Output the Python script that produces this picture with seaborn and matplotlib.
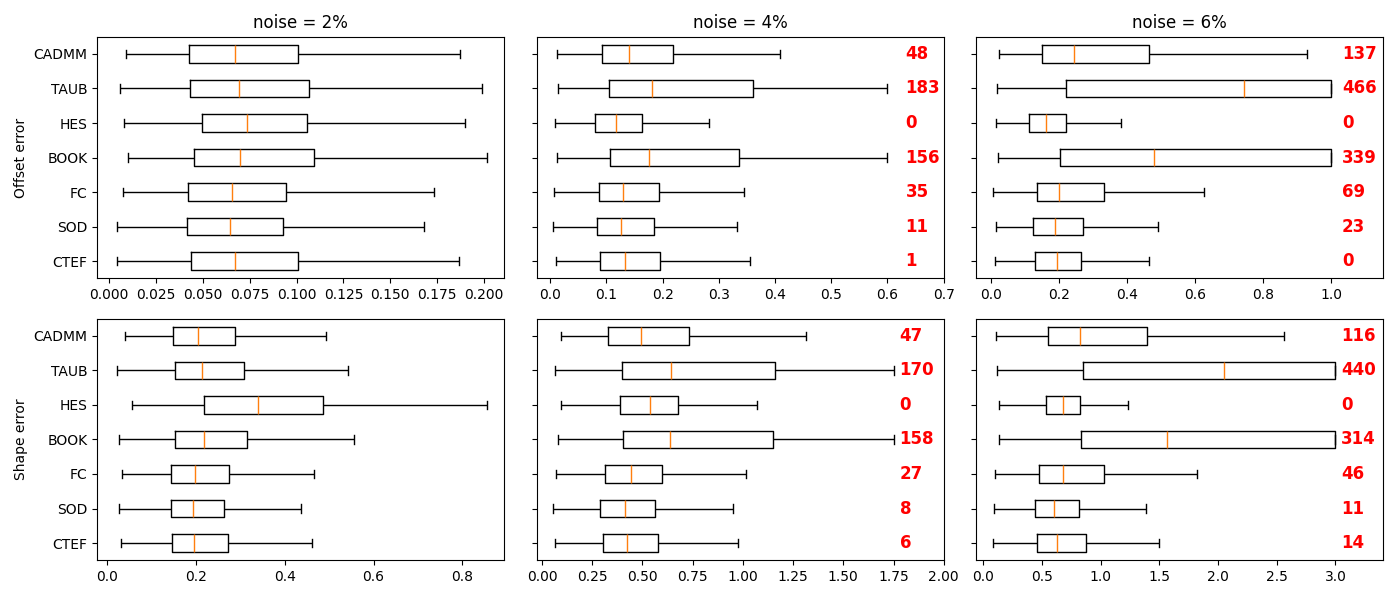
import numpy as np
import pandas as pd
import matplotlib
matplotlib.use("Agg")
import matplotlib.pyplot as plt
import seaborn as sns

methods = ["CADMM", "TAUB", "HES", "BOOK", "FC", "SOD", "CTEF"]
noise_titles = ["noise = 2%", "noise = 4%", "noise = 6%"]
row_labels = ["Offset error", "Shape error"]

# five-number summaries per method: [low whisker, Q1, median, Q3, high whisker]
offset_2 = [
    [0.0090, 0.0428, 0.0673, 0.1008, 0.1870],
    [0.0060, 0.0433, 0.0694, 0.1067, 0.1988],
    [0.0082, 0.0495, 0.0738, 0.1056, 0.1897],
    [0.0103, 0.0451, 0.0699, 0.1093, 0.2014],
    [0.0075, 0.0422, 0.0658, 0.0946, 0.1734],
    [0.0044, 0.0417, 0.0646, 0.0928, 0.1679],
    [0.0044, 0.0435, 0.0674, 0.1008, 0.1865],
]
offset_4 = [
    [0.0119, 0.0921, 0.1408, 0.2186, 0.4093],
    [0.0137, 0.1046, 0.1818, 0.3612, 0.6000],
    [0.0083, 0.0790, 0.1170, 0.1634, 0.2828],
    [0.0119, 0.1063, 0.1758, 0.3362, 0.6000],
    [0.0065, 0.0867, 0.1301, 0.1937, 0.3440],
    [0.0048, 0.0832, 0.1259, 0.1848, 0.3315],
    [0.0101, 0.0885, 0.1337, 0.1955, 0.3559],
]
offset_6 = [
    [0.0244, 0.1496, 0.2434, 0.4633, 0.9277],
    [0.0176, 0.2200, 0.7420, 1.0000, 1.0000],
    [0.0147, 0.1114, 0.1613, 0.2200, 0.3812],
    [0.0205, 0.2043, 0.4780, 1.0000, 1.0000],
    [0.0049, 0.1349, 0.1994, 0.3314, 0.6256],
    [0.0147, 0.1232, 0.1877, 0.2708, 0.4907],
    [0.0117, 0.1300, 0.1935, 0.2649, 0.4633],
]
shape_2 = [
    [0.0398, 0.1471, 0.2041, 0.2874, 0.4923],
    [0.0210, 0.1523, 0.2131, 0.3077, 0.5426],
    [0.0555, 0.2176, 0.3392, 0.4856, 0.8548],
    [0.0263, 0.1531, 0.2184, 0.3145, 0.5553],
    [0.0323, 0.1433, 0.1974, 0.2739, 0.4653],
    [0.0263, 0.1433, 0.1929, 0.2627, 0.4368],
    [0.0300, 0.1448, 0.1959, 0.2717, 0.4608],
]
shape_4 = [
    [0.0928, 0.3265, 0.4905, 0.7292, 1.3125],
    [0.0663, 0.3961, 0.6413, 1.1617, 1.7500],
    [0.0928, 0.3878, 0.5353, 0.6745, 1.0722],
    [0.0779, 0.4010, 0.6347, 1.1517, 1.7500],
    [0.0713, 0.3132, 0.4408, 0.5949, 1.0142],
    [0.0563, 0.2867, 0.4126, 0.5601, 0.9529],
    [0.0630, 0.3049, 0.4209, 0.5750, 0.9778],
]
shape_6 = [
    [0.1076, 0.5524, 0.8244, 1.3966, 2.5580],
    [0.1190, 0.8499, 2.0480, 3.0000, 3.0000],
    [0.1388, 0.5354, 0.6827, 0.8215, 1.2323],
    [0.1388, 0.8357, 1.5666, 3.0000, 3.0000],
    [0.1020, 0.4759, 0.6827, 1.0283, 1.8215],
    [0.0935, 0.4419, 0.6062, 0.8159, 1.3881],
    [0.0878, 0.4589, 0.6289, 0.8754, 1.4986],
]

# counts of clipped values (red annotations)
count_offset_4 = [48, 183, 0, 156, 35, 11, 1]
count_offset_6 = [137, 466, 0, 339, 69, 23, 0]
count_shape_4 = [47, 170, 0, 158, 27, 8, 6]
count_shape_6 = [116, 440, 0, 314, 46, 11, 14]

panels = [[offset_2, offset_4, offset_6], [shape_2, shape_4, shape_6]]
counts = [[None, count_offset_4, count_offset_6], [None, count_shape_4, count_shape_6]]
xlims = [[(-0.0062, 0.2108), (-0.024, 0.70), (-0.044, 1.152)],
         [(-0.023, 0.895), (-0.027, 2.0), (-0.06, 3.405)]]
text_x = [[None, 0.632, 1.031], [None, 1.78, 3.045]]

fig, axes = plt.subplots(2, 3, figsize=(14, 6), dpi=100)
fig.subplots_adjust(left=0.0695, right=0.9879, top=0.9388, bottom=0.0662,
                    wspace=0.0792, hspace=0.167)

for r in range(2):
    for c in range(3):
        ax = axes[r, c]
        summ = panels[r][c]
        rows = []
        for m, vals in zip(methods, summ):
            for v in vals:
                rows.append({"method": m, "value": v})
        df = pd.DataFrame(rows)
        sns.boxplot(data=df, x="value", y="method", order=methods, orient="y",
                    width=0.5, whis=(0, 100), showfliers=False, fill=False,
                    color="black", linewidth=1,
                    medianprops=dict(color="#ff7f0e", linewidth=1),
                    capwidths=0.25, ax=ax)
        ax.set_xlim(*xlims[r][c])
        ax.set_xlabel("")
        if c == 0:
            ax.set_ylabel(row_labels[r])
        else:
            ax.set_ylabel("")
            ax.tick_params(labelleft=False)
        if r == 0:
            ax.set_title(noise_titles[c], fontsize=12)
        cnt = counts[r][c]
        if cnt is not None:
            for i, n in enumerate(cnt):
                ax.text(text_x[r][c], i, str(n), color="red", fontsize=12,
                        fontweight="bold", ha="left", va="center")
        for s in ax.spines.values():
            s.set_visible(True)

fig.savefig("out.png", dpi=100)
